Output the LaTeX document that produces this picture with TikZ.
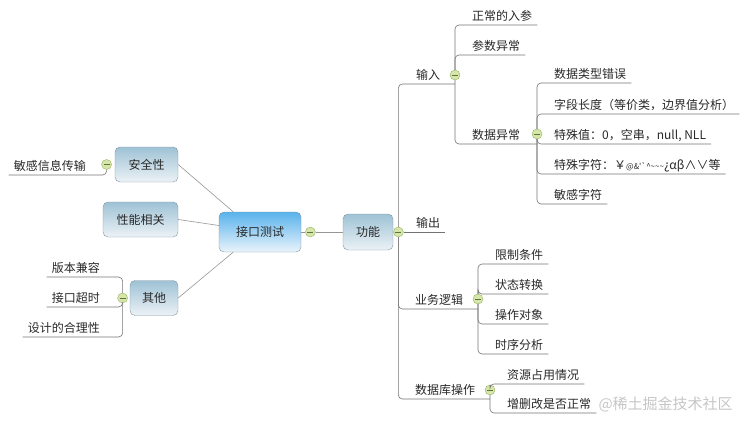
\documentclass[tikz,border=0pt]{standalone}
\usepackage{fontspec}
\newfontfamily\cjk{Noto Sans CJK SC}
\usetikzlibrary{positioning}
\definecolor{boxline}{RGB}{128,148,160}
\definecolor{subtop}{RGB}{158,194,213}
\definecolor{subbot}{RGB}{236,242,246}
\definecolor{centtop}{RGB}{88,178,236}
\definecolor{centbot}{RGB}{234,244,251}
\definecolor{linegray}{RGB}{115,115,115}
\definecolor{edgegray}{RGB}{150,150,150}
\definecolor{foldfill}{RGB}{214,230,170}
\definecolor{folddraw}{RGB}{150,178,96}
\definecolor{foldmark}{RGB}{95,115,60}
\definecolor{txt}{RGB}{40,40,40}

\begin{document}
\begin{tikzpicture}[
  x=1pt, y=1pt,
  font=\cjk\fontsize{12}{14}\selectfont, text=txt,
  topic/.style={draw=boxline, rounded corners=5pt, top color=subtop,
                bottom color=subbot, minimum height=35pt, inner sep=0pt},
  central/.style={topic, top color=centtop, bottom color=centbot, minimum height=40pt},
  leaf/.style={inner xsep=5pt, inner ysep=2.5pt, text height=10pt, text depth=2pt},
  fold/.style={circle, draw=folddraw, fill=foldfill, minimum size=10pt, inner sep=0pt,
               path picture={\draw[foldmark, line width=0.8pt]
                 ([xshift=-3pt]path picture bounding box.center) --
                 ([xshift=3pt]path picture bounding box.center);}},
  edge/.style={draw=edgegray, line width=0.6pt},
  branch/.style={draw=linegray, line width=0.6pt, rounded corners=4pt},
]
\useasboundingbox (0,0) rectangle (752,-428);

%% --- centre ---
\node[central, minimum width=82pt] (api) at (260,-232) {接口测试};
\node[fold, right=4pt of api] (fApi) {};
\node[topic, minimum width=50pt, minimum height=36pt] (func) at (368,-232) {功能};
\node[fold, right=0pt of func] (fFunc) {};

%% --- left topics ---
\node[topic, minimum width=63pt] (safe) at (146.5,-164.5) {安全性};
\node[fold, left=3pt of safe] (fSafe) {};
\node[topic, minimum width=75pt] (perf) at (140.5,-219.5) {性能相关};
\node[topic, minimum width=48pt] (other) at (154,-298) {其他};
\node[fold, left=2pt of other] (fOther) {};

\node[leaf, anchor=south east] (sens)    at (91,-175)  {敏感信息传输};
\node[leaf, anchor=south east] (compat)  at (105,-277) {版本兼容};
\node[leaf, anchor=south east] (timeout) at (105,-307) {接口超时};
\node[leaf, anchor=south east] (design)  at (105,-337) {设计的合理性};

%% --- input ---
\node[leaf, anchor=south west] (inp)     at (411,-84)  {输入};
\node[fold] (fIn) at (455,-75) {};
\node[leaf, anchor=south west] (pNormal) at (467,-25)  {正常的入参};
\node[leaf, anchor=south west] (pBad)    at (467,-55)  {参数异常};
\node[leaf, anchor=south west] (dataErr) at (467,-144) {数据异常};
\node[fold] (fData) at (537,-134) {};
\node[leaf, anchor=south west] (dType) at (549,-83)  {数据类型错误};
\node[leaf, anchor=south west] (dLen)  at (549,-114) {字段长度（等价类，边界值分析）};
\node[leaf, anchor=south west] (dVal)  at (549,-144) {特殊值：0，空串，null, NLL};
\node[leaf, anchor=south west] (dChar) at (549,-174)
  {特殊字符：￥{\fontsize{8}{10}\selectfont @\&'`\textasciicircum\textasciitilde\textasciitilde\textasciitilde}¿αβ∧∨等};
\node[leaf, anchor=south west] (dSens) at (549,-204) {敏感字符};

%% --- output / logic / database ---
\node[leaf, anchor=south west] (outp)  at (411,-232) {输出};
\node[leaf, anchor=south west] (logic) at (410,-309) {业务逻辑};
\node[fold] (fLogic) at (478,-299) {};
\node[leaf, anchor=south west] (lLimit) at (490,-264) {限制条件};
\node[leaf, anchor=south west] (lState) at (490,-294) {状态转换};
\node[leaf, anchor=south west] (lObj)   at (490,-324) {操作对象};
\node[leaf, anchor=south west] (lTime)  at (490,-354) {时序分析};
\node[leaf, anchor=south west] (db)     at (410,-399) {数据库操作};
\node[fold] (fDb) at (490,-390) {};
\node[leaf, anchor=south west] (dbRes)  at (502,-384) {资源占用情况};
\node[leaf, anchor=south west] (dbCrud) at (502,-413) {增删改是否正常};

\node[anchor=west, text=gray!45, font=\cjk\fontsize{15}{17}\selectfont] (mark)
  at (595,-404) {@稀土掘金技术社区};

%% --- connectors ---
\draw[edge] (safe.east) -- (api.143);
\draw[edge] (perf.east) -- (api.171);
\draw[edge] (other.east) -- (api.217);
\draw[edge] (api) -- (fApi);
\draw[edge] (fApi) -- (func);
\draw[edge] (func) -- (fFunc);

\draw[branch] (fSafe) |- (sens.south west);
\draw[branch] (fOther) |- (compat.south west);
\draw[branch] (fOther) |- (timeout.south west);
\draw[branch] (fOther) |- (design.south west);

\draw[branch] (fFunc) |- (fIn |- inp.south);
\draw[branch] (fFunc) -- (outp.south east);
\draw[branch] (fFunc) |- (fLogic |- logic.south);
\draw[branch] (fFunc) |- (fDb |- db.south);

\draw[branch] (fIn) |- (pNormal.south east);
\draw[branch] (fIn) |- (pBad.south east);
\draw[branch] (fIn) |- (fData |- dataErr.south);

\draw[branch] (fData) |- (dType.south east);
\draw[branch] (fData) |- (dLen.south east);
\draw[branch] (fData) |- (dVal.south east);
\draw[branch] (fData) |- (dChar.south east);
\draw[branch] (fData) |- (dSens.south east);

\draw[branch] (fLogic) |- (lLimit.south east);
\draw[branch] (fLogic) |- (lState.south east);
\draw[branch] (fLogic) |- (lObj.south east);
\draw[branch] (fLogic) |- (lTime.south east);

\draw[branch] (fDb) |- (dbRes.south east);
\draw[branch] (fDb) |- (dbCrud.south east);

\end{tikzpicture}
\end{document}
